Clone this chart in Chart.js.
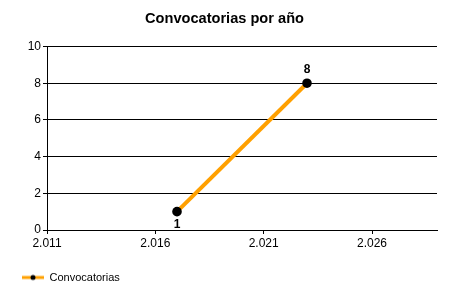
<!DOCTYPE html>
<html>
<head>
<meta charset="utf-8">
<script src="https://cdn.jsdelivr.net/npm/chart.js@4"></script>
<style>
  html, body { margin: 0; padding: 0; background: #fff; }
  #wrap { width: 450px; height: 300px; }
</style>
</head>
<body>
<div id="wrap"><canvas id="chart" width="450" height="300"></canvas></div>
<script>
const years = [2017, 2023];
const counts = [1, 8];
const xTicks = [2011, 2016, 2021, 2026];
const xMin = 2011, xMax = 2029;

// legend icon: orange line with black dot
const icon = document.createElement('canvas');
icon.width = 22; icon.height = 8;
const ic = icon.getContext('2d');
ic.strokeStyle = '#ffa000';
ic.lineWidth = 3;
ic.beginPath(); ic.moveTo(0, 4); ic.lineTo(22, 4); ic.stroke();
ic.fillStyle = '#000';
ic.beginPath(); ic.arc(11, 4, 2.5, 0, Math.PI * 2); ic.fill();

function fmt(v) {
    return String(v).replace(/\B(?=(\d{3})+(?!\d))/g, '.');
}

// value labels above/below points
const valueLabels = {
    id: 'valueLabels',
    afterDatasetsDraw(chart) {
        const ctx = chart.ctx;
        const meta = chart.getDatasetMeta(0);
        ctx.save();
        ctx.font = 'bold 12px "Liberation Sans", Arial, sans-serif';
        ctx.fillStyle = '#000';
        ctx.textAlign = 'center';
        meta.data.forEach((pt, i) => {
            if (i === 0) {
                ctx.textBaseline = 'top';
                ctx.fillText(counts[i], pt.x, pt.y + 7);
            } else {
                ctx.textBaseline = 'bottom';
                ctx.fillText(counts[i], pt.x, pt.y - 8);
            }
        });
        ctx.restore();
    }
};

const ctx = document.getElementById('chart').getContext('2d');
new Chart(ctx, {
    type: 'line',
    data: {
        datasets: [{
            label: 'Convocatorias',
            data: years.map((y, i) => ({ x: y, y: counts[i] })),
            borderColor: '#ffa000',
            borderWidth: 4,
            pointBackgroundColor: '#000',
            pointBorderColor: '#000',
            pointBorderWidth: 0,
            pointRadius: 4.8,
            pointStyle: 'circle',
            fill: false,
            tension: 0
        }]
    },
    options: {
        responsive: false,
        animation: false,
        layout: { padding: { left: 12, right: 13, top: 0, bottom: 7 } },
        font: { family: '"Liberation Sans", Arial, sans-serif' },
        scales: {
            x: {
                type: 'linear',
                min: xMin,
                max: xMax,
                afterBuildTicks: (axis) => { axis.ticks = xTicks.map(v => ({ value: v })); },
                afterFit: (axis) => { axis.height = 32; },
                ticks: {
                    color: '#000',
                    font: { size: 12 },
                    padding: 2,
                    maxRotation: 0,
                    callback: (v) => fmt(v)
                },
                grid: { drawOnChartArea: false, drawTicks: true, tickLength: 4, color: '#000' },
                border: { color: '#000', width: 1 }
            },
            y: {
                min: 0,
                max: 10,
                afterFit: (axis) => { axis.width = 35; },
                ticks: { stepSize: 2, color: '#000', font: { size: 12 }, padding: 2 },
                grid: { color: '#000', lineWidth: 1, tickLength: 4 },
                border: { color: '#000', width: 1 }
            }
        },
        plugins: {
            title: {
                display: true,
                text: 'Convocatorias por año',
                color: '#000',
                font: { size: 14.6, weight: 'bold', family: '"Liberation Sans", Arial, sans-serif' },
                padding: { top: 10, bottom: 19 }
            },
            legend: {
                position: 'bottom',
                align: 'start',
                labels: {
                    usePointStyle: true,
                    pointStyle: icon,
                    pointStyleWidth: 22,
                    color: '#000',
                    font: { size: 11, family: '"Liberation Sans", Arial, sans-serif' },
                    padding: 10
                }
            },
            tooltip: { enabled: false }
        }
    },
    plugins: [valueLabels]
});
</script>
</body>
</html>
